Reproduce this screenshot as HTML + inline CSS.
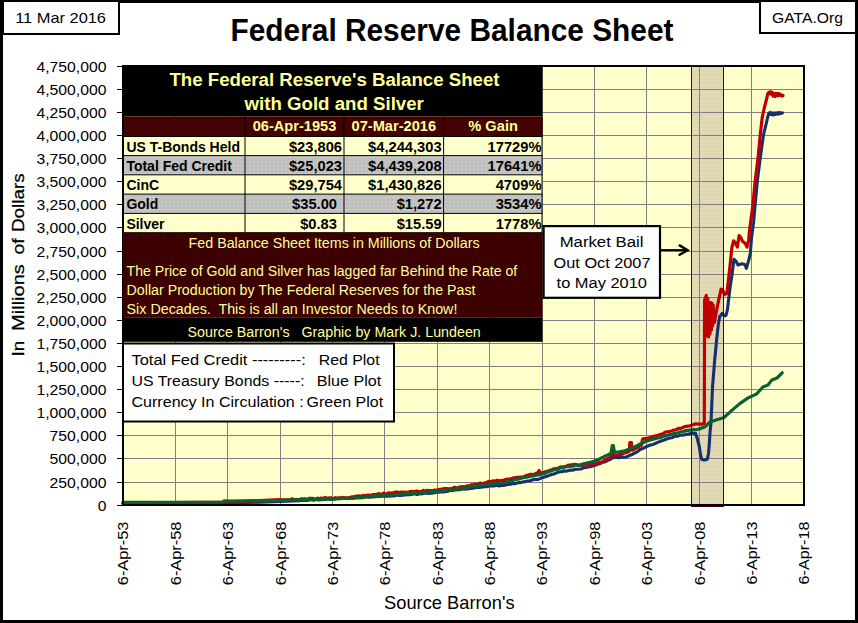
<!DOCTYPE html>
<html><head><meta charset="utf-8"><title>Federal Reserve Balance Sheet</title>
<style>html,body{margin:0;padding:0;background:#fff;width:858px;height:623px;overflow:hidden}</style>
</head><body>
<svg width="858" height="623" viewBox="0 0 858 623" style="display:block">
<defs>
<pattern id="dotY" width="4" height="4" patternUnits="userSpaceOnUse"><rect width="4" height="4" fill="#FFFFCC"/><rect x="1" y="1" width="1" height="1" fill="#FFFF99" opacity="0.6"/></pattern>
<pattern id="dotG" width="4" height="4" patternUnits="userSpaceOnUse"><rect width="4" height="4" fill="#C0C0C0"/><rect x="1" y="1" width="1" height="1" fill="#E0E0E0"/></pattern>
<pattern id="dotM" width="4" height="4" patternUnits="userSpaceOnUse"><rect width="4" height="4" fill="#420000"/><rect x="1" y="1" width="1" height="1" fill="#720000"/><rect x="3" y="3" width="1" height="1" fill="#600000"/></pattern>
<pattern id="dotT" width="4" height="4" patternUnits="userSpaceOnUse"><rect width="4" height="4" fill="#E6D5AC"/><rect x="0" y="0" width="1" height="1" fill="#EAE0BE"/><rect x="2" y="2" width="1" height="1" fill="#D6DAB0"/><rect x="2" y="0" width="1" height="1" fill="#EAE0BE"/></pattern>
</defs>
<rect x="0" y="0" width="858" height="623" fill="#000"/>
<rect x="3" y="3" width="852" height="617" fill="#fff"/>
<rect x="123.0" y="66.0" width="681.0" height="439.0" fill="url(#dotY)"/>
<rect x="691.5" y="66.0" width="32" height="439.0" fill="url(#dotT)"/>
<line x1="123.0" y1="89.5" x2="804.0" y2="89.5" stroke="#808080" stroke-width="1"/>
<line x1="123.0" y1="112.5" x2="804.0" y2="112.5" stroke="#808080" stroke-width="1"/>
<line x1="123.0" y1="135.5" x2="804.0" y2="135.5" stroke="#808080" stroke-width="1"/>
<line x1="123.0" y1="158.5" x2="804.0" y2="158.5" stroke="#808080" stroke-width="1"/>
<line x1="123.0" y1="181.5" x2="804.0" y2="181.5" stroke="#808080" stroke-width="1"/>
<line x1="123.0" y1="204.5" x2="804.0" y2="204.5" stroke="#808080" stroke-width="1"/>
<line x1="123.0" y1="227.5" x2="804.0" y2="227.5" stroke="#808080" stroke-width="1"/>
<line x1="123.0" y1="251.5" x2="804.0" y2="251.5" stroke="#808080" stroke-width="1"/>
<line x1="123.0" y1="274.5" x2="804.0" y2="274.5" stroke="#808080" stroke-width="1"/>
<line x1="123.0" y1="297.5" x2="804.0" y2="297.5" stroke="#808080" stroke-width="1"/>
<line x1="123.0" y1="320.5" x2="804.0" y2="320.5" stroke="#808080" stroke-width="1"/>
<line x1="123.0" y1="343.5" x2="804.0" y2="343.5" stroke="#808080" stroke-width="1"/>
<line x1="123.0" y1="366.5" x2="804.0" y2="366.5" stroke="#808080" stroke-width="1"/>
<line x1="123.0" y1="389.5" x2="804.0" y2="389.5" stroke="#808080" stroke-width="1"/>
<line x1="123.0" y1="412.5" x2="804.0" y2="412.5" stroke="#808080" stroke-width="1"/>
<line x1="123.0" y1="435.5" x2="804.0" y2="435.5" stroke="#808080" stroke-width="1"/>
<line x1="123.0" y1="458.5" x2="804.0" y2="458.5" stroke="#808080" stroke-width="1"/>
<line x1="123.0" y1="482.5" x2="804.0" y2="482.5" stroke="#808080" stroke-width="1"/>
<line x1="175.5" y1="66.0" x2="175.5" y2="505.0" stroke="#808080" stroke-width="1"/>
<line x1="227.5" y1="66.0" x2="227.5" y2="505.0" stroke="#808080" stroke-width="1"/>
<line x1="280.5" y1="66.0" x2="280.5" y2="505.0" stroke="#808080" stroke-width="1"/>
<line x1="332.5" y1="66.0" x2="332.5" y2="505.0" stroke="#808080" stroke-width="1"/>
<line x1="384.5" y1="66.0" x2="384.5" y2="505.0" stroke="#808080" stroke-width="1"/>
<line x1="437.5" y1="66.0" x2="437.5" y2="505.0" stroke="#808080" stroke-width="1"/>
<line x1="489.5" y1="66.0" x2="489.5" y2="505.0" stroke="#808080" stroke-width="1"/>
<line x1="542.5" y1="66.0" x2="542.5" y2="505.0" stroke="#808080" stroke-width="1"/>
<line x1="594.5" y1="66.0" x2="594.5" y2="505.0" stroke="#808080" stroke-width="1"/>
<line x1="646.5" y1="66.0" x2="646.5" y2="505.0" stroke="#808080" stroke-width="1"/>
<line x1="699.5" y1="66.0" x2="699.5" y2="505.0" stroke="#808080" stroke-width="1"/>
<line x1="751.5" y1="66.0" x2="751.5" y2="505.0" stroke="#808080" stroke-width="1"/>
<line x1="691.5" y1="66.0" x2="691.5" y2="505.0" stroke="#4B0019" stroke-width="1"/><line x1="723.5" y1="66.0" x2="723.5" y2="505.0" stroke="#4B0019" stroke-width="1"/>
<polyline fill="none" stroke="#17306C" stroke-width="3.1" stroke-linejoin="round" stroke-linecap="round" points="123,504 230,503.3 300,500.6 301.7,500.3 303.4,500.46 305.11,500.23 306.81,500.33 308.51,500.25 310.21,499.72 311.91,499.59 313.62,500.16 315.32,499.6 317.02,499.49 318.72,500.01 320.43,499.5 322.13,499.71 323.83,499.33 325.53,499.37 327.23,498.89 328.94,499.19 330.64,499.29 332.34,498.92 334.04,499.01 335.74,498.86 337.45,498.29 339.15,498.75 340.85,498.53 342.55,498.21 344.26,497.9 345.96,498.48 347.66,498.08 349.36,498.18 351.06,498.22 352.77,498.0 354.47,498.08 356.17,497.57 357.87,497.8 359.57,497.43 361.28,497.73 362.98,497.6 364.68,496.88 366.38,496.82 368.09,496.8 369.79,497.31 371.49,496.8 373.19,496.86 374.89,496.51 376.6,496.58 378.3,496.4 380,496.4 381.72,496.17 383.45,496.25 385.17,496.14 386.9,496.28 388.62,495.99 390.34,496.08 392.07,495.91 393.79,495.91 395.52,495.54 397.24,495.03 398.97,495.47 400.69,495.45 402.41,495.29 404.14,494.91 405.86,494.92 407.59,494.4 409.31,494.79 411.03,494.47 412.76,494.13 414.48,493.84 416.21,494.37 417.93,494.36 419.66,493.53 421.38,493.99 423.1,493.57 424.83,493.25 426.55,493.26 428.28,493.53 430,493.2 431.74,493.29 433.48,492.42 435.22,492.67 436.96,492.0 438.7,492.33 440.43,491.81 442.17,492.04 443.91,491.91 445.65,491.33 447.39,491.51 449.13,490.75 450.87,490.36 452.61,490.57 454.35,489.9 456.09,489.83 457.83,489.79 459.57,489.74 461.3,489.17 463.04,488.87 464.78,489.32 466.52,488.67 468.26,488.98 470,488.4 471.82,488.5 473.64,487.87 475.45,487.71 477.27,487.54 479.09,487.42 480.91,487.17 482.73,486.92 484.55,486.75 486.36,486.79 488.18,486.22 490,486 491.88,485.84 493.75,485.98 495.62,485.49 497.5,485.44 499.38,485.88 501.25,485.42 503.12,485.34 505,485.2 506.88,484.48 508.75,484.48 510.62,484.29 512.5,483.52 514.38,483.67 516.25,483.36 518.12,482.57 520,482.6 521.82,482.34 523.64,481.85 525.45,481.65 527.27,481.03 529.09,480.95 530.91,480.61 532.73,479.67 534.55,479.34 536.36,479.47 538.18,479.33 540,478.6 541.82,477.78 543.64,477.33 545.45,476.82 547.27,475.98 549.09,475.4 550.91,474.74 552.73,474.17 554.55,473.73 556.36,472.88 558.18,472.32 560,471.8 561.82,471.76 563.64,470.91 565.45,471.09 567.27,470.97 569.09,470.38 570.91,470.05 572.73,470.26 574.55,469.55 576.36,469.26 578.18,469.2 580,469 582.0,468.68 584.0,467.72 586.0,467.42 588.0,466.95 590,466.6 592.0,466.27 594.0,465.35 596.0,465.08 598.0,463.94 600,463.6 602.0,462.65 604.0,462.08 606.0,461.45 608.0,460.28 610,459.5 613,457.6 614.75,457.38 616.5,457.3 618.25,457.62 620,457.6 621.75,457.13 623.5,457.4 625.25,457.2 627,456.7 629.5,455.4 632,454.6 634.0,453.37 636,452.5 638.0,451.25 640,449.5 642.0,448.71 644.0,447.95 646,446.8 647.8,446.04 649.6,445.22 651.4,444.71 653.2,444.48 655,443.6 657.5,442.37 660,441.5 662.0,440.68 664.0,440.03 666.0,439.34 668.0,438.63 670,438 672.0,437.78 674.0,436.6 676.0,435.92 678.0,436.11 680,435.2 682.0,435.18 684.0,434.95 686.0,434.19 688.0,434.28 690,433.6 692,432.9 693.8,433.49 695.6,433.4 697.3,438.5 699.3,446.5 700.5,454.5 701.7,459.3 704.1,460.1 707.3,459.3 708.5,453.7 709.3,444 710.1,431.2 710.9,424 712.6,385.7 714.7,360 716.6,340 718.3,324.3 719.7,316.6 722.1,313.3 724,315.7 725.9,315.7 727.4,309.9 728.4,301.2 729.8,289.6 731.8,276.2 734,259.3 736.3,261.6 738,265 741.9,263.8 744.7,264.4 746.4,268.3 748.7,260.4 750.3,253.7 751.5,238 753.6,222.2 755.1,205 757.3,181.4 760.2,158.3 763.4,135.2 765.9,125 767.5,118 768.8,113.3 770,112.5 771,114.5 772,112.8 773,115 774,113 775,114.5 776,112.8 777,114.2 778,112.6 779,114 780,112.5 781,113.5 782.5,112.8"/>
<polyline fill="none" stroke="#C00000" stroke-width="3.2" stroke-linejoin="round" stroke-linecap="round" points="123,503 230,502 280,499.7 281.67,499.81 283.33,499.91 285.0,499.93 286.67,500.06 288.33,499.78 290.0,499.96 291.67,498.84 293.33,499.33 295.0,499.86 296.67,499.46 298.33,499.72 300,499.2 301.61,498.68 303.23,499.05 304.84,498.72 306.45,499.02 308.06,499.0 309.68,498.27 311.29,498.45 312.9,498.47 314.52,499.18 316.13,498.94 317.74,498.15 319.35,498.86 320.97,498.01 322.58,498.53 324.19,497.88 325.81,497.67 327.42,498.66 329.03,497.81 330.65,497.76 332.26,498.62 333.87,498.43 335.48,497.67 337.1,498.42 338.71,497.85 340.32,497.96 341.94,497.34 343.55,498.16 345.16,497.8 346.77,498.08 348.39,497.93 350,497.4 351.67,496.97 353.33,496.86 355.0,496.43 356.67,496.22 358.33,495.93 360.0,496.03 361.67,496.2 363.33,495.29 365.0,495.91 366.67,495.32 368.33,495.09 370.0,495.52 371.67,494.92 373.33,494.53 375.0,494.54 376.67,494.62 378.33,493.66 380,494.0 381.67,494.44 383.33,493.16 385.0,493.9 386.67,493.88 388.33,492.76 390.0,493.55 391.67,492.91 393.33,493.03 395.0,492.21 396.67,492.12 398.33,492.15 400.0,492.95 401.67,491.9 403.33,492.44 405,492 406.67,492.42 408.33,492.34 410.0,491.53 411.67,491.45 413.33,491.56 415.0,491.77 416.67,490.88 418.33,491.55 420.0,491.52 421.67,491.5 423.33,490.42 425.0,491.41 426.67,490.3 428.33,490.5 430,490.6 431.67,490.57 433.33,490.77 435.0,489.91 436.67,490.44 438.33,489.82 440.0,489.37 441.67,489.21 443.33,488.88 445.0,488.59 446.67,488.51 448.33,488.99 450,488.6 451.67,488.95 453.33,487.69 455.0,487.31 456.67,488.18 458.33,487.39 460.0,486.99 461.67,486.53 463.33,486.71 465.0,486.74 466.67,486.05 468.33,485.76 470,485.6 471.67,484.73 473.33,485.43 475.0,484.04 476.67,484.26 478.33,484.34 480.0,483.16 481.67,483.54 483.33,483.47 485.0,482.76 486.67,482.61 488.33,481.46 490,481.6 491.67,481.3 493.33,480.73 495.0,481.35 496.67,480.46 498.33,480.43 500.0,480.87 501.67,480.47 503.33,480.39 505,479.6 506.67,479.27 508.33,479.03 510.0,479.04 511.67,478.46 513.33,477.96 515.0,477.82 516.67,477.23 518.33,477.23 520,477.1 521.64,477.31 523.27,476.91 524.91,476.13 526.55,475.61 528.18,475.04 529.82,474.37 531.45,474.22 533.09,474.46 534.73,474.19 536.36,473.21 538,473 539,470.6 540.5,473 542.12,472.87 543.75,472.38 545.38,471.81 547.0,471.3 548.62,470.94 550.25,469.99 551.88,469.92 553.5,468.94 555.12,468.71 556.75,468.57 558.38,468.0 560,467.3 561.67,466.72 563.33,467.17 565.0,466.48 566.67,466.06 568.33,465.05 570.0,465.36 571.67,464.67 573.33,464.84 575,464.3 576.67,464.59 578.33,465.35 580,465.3 581.67,465.36 583.33,465.42 585.0,464.77 586.67,465.01 588.33,465.0 590,464.6 591.67,464.61 593.33,463.65 595.0,463.86 596.67,463.51 598.33,462.91 600,462.3 601.67,462.09 603.33,461.28 605.0,459.97 606.67,459.2 608.33,457.98 610,457.6 613,454.2 616,455.2 618.0,455.1 620,454.2 621.67,454.29 623.33,453.31 625,452.9 627.15,452.28 629.3,451.2 629.8,442.6 631.4,442.6 632,450.2 634.0,449.46 636,448.2 638.0,447.18 640,445.6 641.5,445.2 642.5,439.3 644.25,438.56 646,438.6 647.8,438.42 649.6,437.66 651.4,437.24 653.2,436.42 655,436 656.67,435.62 658.33,435.26 660,434.4 661.67,434.05 663.33,433.63 665.0,432.28 666.67,431.93 668.33,431.75 670,431.3 671.67,431.0 673.33,430.0 675.0,430.07 676.67,429.52 678.33,428.33 680,428.4 681.67,427.95 683.33,427.24 685.0,426.61 686.67,426.29 688.33,426.1 690,425.9 691.75,425.04 693.5,424.58 695.25,423.92 697,424 698.67,424.03 700.33,423.99 702,424.2 704.3,423.5 704.6,300 706.3,295.5 707.2,336 707.8,298 708.6,337 709.3,302.5 710,334 710.7,302.5 711.4,330 712,303 712.6,326 713.2,305 713.8,323 714.3,322.4 717.8,304.1 721.1,289.2 722.6,289.6 724.5,294.5 726.9,293.5 730.1,265 731.8,248.1 733.5,240.8 735.2,242.5 737.4,247 739.1,235.7 740.8,237.4 742.5,241.3 745.3,243.6 747,247 748.7,240.2 749.4,231.2 750.9,220 752.9,205 755.1,181.4 758,158.3 760.2,135.2 762.3,117 764.3,108 766.6,99 767.9,93.4 768.8,92.5 769.8,93.5 770.6,91.6 771.5,94.5 772.3,92.5 773.2,96 774,93.5 775,96.5 776,93.5 777,95.5 778,93.5 779,95.5 780,94 781,95 782,96 783,95.5"/>
<polyline fill="none" stroke="#0A6030" stroke-width="3.2" stroke-linejoin="round" stroke-linecap="round" points="123,502.4 223,502.0 224,500.9 230,501.0 280,500.4 281.82,500.23 283.64,500.06 285.45,500.37 287.27,499.92 289.09,500.2 290.91,500.03 292.73,499.77 294.55,500.04 296.36,499.67 298.18,499.9 300,499.9 301.72,499.54 303.45,499.5 305.17,499.68 306.9,499.91 308.62,499.36 310.34,499.38 312.07,499.6 313.79,499.77 315.52,499.46 317.24,499.28 318.97,499.63 320.69,498.92 322.41,499.43 324.14,498.98 325.86,498.82 327.59,498.75 329.31,498.83 331.03,499.13 332.76,498.63 334.48,498.85 336.21,498.84 337.93,498.6 339.66,498.66 341.38,498.27 343.1,498.21 344.83,498.26 346.55,498.54 348.28,498.3 350,498.3 351.76,498.01 353.53,498.04 355.29,497.79 357.06,497.52 358.82,497.71 360.59,497.49 362.35,497.01 364.12,497.08 365.88,496.89 367.65,496.97 369.41,496.71 371.18,496.25 372.94,496.57 374.71,495.81 376.47,495.86 378.24,495.94 380,495.6 381.79,495.22 383.57,495.32 385.36,494.87 387.14,495.17 388.93,495.11 390.71,494.84 392.5,494.91 394.29,494.38 396.07,494.52 397.86,494.31 399.64,494.16 401.43,493.94 403.21,494.07 405,493.7 406.79,493.89 408.57,493.44 410.36,493.45 412.14,492.91 413.93,493.23 415.71,493.07 417.5,493.2 419.29,492.95 421.07,492.46 422.86,492.41 424.64,492.48 426.43,491.91 428.21,492.09 430,492 431.82,491.59 433.64,491.37 435.45,491.15 437.27,491.46 439.09,490.83 440.91,490.73 442.73,490.65 444.55,490.81 446.36,490.07 448.18,490.15 450,490 451.82,489.76 453.64,489.72 455.45,489.41 457.27,489.16 459.09,488.48 460.91,488.3 462.73,487.99 464.55,488.09 466.36,487.87 468.18,487.03 470,487 471.82,486.5 473.64,486.27 475.45,486.0 477.27,485.9 479.09,485.7 480.91,485.2 482.73,484.74 484.55,484.76 486.36,484.45 488.18,484.32 490,484 491.88,484.09 493.75,483.68 495.62,483.34 497.5,483.18 499.38,483.0 501.25,482.34 503.12,482.7 505,482.2 506.88,481.96 508.75,481.59 510.62,481.1 512.5,480.37 514.38,479.94 516.25,479.3 518.12,479.23 520,478.7 521.82,478.03 523.64,477.67 525.45,477.41 527.27,477.01 529.09,476.77 530.91,476.2 532.73,475.8 534.55,475.55 536.36,475.15 538.18,474.97 540,474.7 541.82,473.76 543.64,473.74 545.45,472.95 547.27,472.02 549.09,471.48 550.91,470.94 552.73,470.34 554.55,469.56 556.36,469.46 558.18,468.95 560,468.0 561.82,467.69 563.64,467.41 565.45,466.84 567.27,466.56 569.09,466.44 570.91,466.09 572.73,466.19 574.55,465.44 576.36,465.05 578.18,465.41 580,464.8 582.0,464.36 584.0,463.63 586.0,463.45 588.0,462.63 590,462.5 592.0,461.78 594.0,461.35 596.0,460.53 598.0,459.68 600,458.8 601.83,457.72 603.67,456.87 605.5,455.82 607.33,455.32 609.17,454.24 611,453.3 612.3,445.5 613.3,445.5 614.3,451.8 617,452 619.5,451.9 622,451.4 625,450.9 627.5,449.73 630,448.8 632.0,447.65 634.0,447.1 636.0,446.26 638.0,445.21 640,444 642.0,443.28 644.0,442.36 646,441.2 647.8,440.89 649.6,440.05 651.4,439.77 653.2,439.18 655,438.8 657.5,437.92 660,437.7 662.0,436.73 664.0,436.27 666.0,435.61 668.0,435.27 670,434.5 672.0,434.3 674.0,433.42 676.0,433.25 678.0,432.76 680,431.9 682.0,431.88 684.0,431.13 686.0,430.68 688.0,430.35 690,430.2 691.75,429.81 693.5,429.64 695.25,429.76 697,429.5 700,428.8 705,426.8 710,422 716.7,419.7 723.7,417.8 732.1,410.1 739.8,403.6 748.1,397.9 756.5,394 762.9,387 768,385 771.9,379.9 777,378 782.2,372.8"/>
<rect x="123.0" y="66.0" width="681.0" height="439.0" fill="none" stroke="#000" stroke-width="2"/>
<rect x="691.5" y="65.5" width="32" height="441" fill="none" stroke="#4B0019" stroke-width="1"/>
<line x1="117" y1="66.5" x2="123.0" y2="66.5" stroke="#000" stroke-width="1"/>
<text x="106.5" y="71.7" text-anchor="end" font-family='"Liberation Sans", sans-serif' font-size="14.3" textLength="70.0" lengthAdjust="spacingAndGlyphs" fill="#000">4,750,000</text>
<line x1="117" y1="89.5" x2="123.0" y2="89.5" stroke="#000" stroke-width="1"/>
<text x="106.5" y="94.7" text-anchor="end" font-family='"Liberation Sans", sans-serif' font-size="14.3" textLength="70.0" lengthAdjust="spacingAndGlyphs" fill="#000">4,500,000</text>
<line x1="117" y1="112.5" x2="123.0" y2="112.5" stroke="#000" stroke-width="1"/>
<text x="106.5" y="117.7" text-anchor="end" font-family='"Liberation Sans", sans-serif' font-size="14.3" textLength="70.0" lengthAdjust="spacingAndGlyphs" fill="#000">4,250,000</text>
<line x1="117" y1="135.5" x2="123.0" y2="135.5" stroke="#000" stroke-width="1"/>
<text x="106.5" y="140.7" text-anchor="end" font-family='"Liberation Sans", sans-serif' font-size="14.3" textLength="70.0" lengthAdjust="spacingAndGlyphs" fill="#000">4,000,000</text>
<line x1="117" y1="158.5" x2="123.0" y2="158.5" stroke="#000" stroke-width="1"/>
<text x="106.5" y="163.7" text-anchor="end" font-family='"Liberation Sans", sans-serif' font-size="14.3" textLength="70.0" lengthAdjust="spacingAndGlyphs" fill="#000">3,750,000</text>
<line x1="117" y1="181.5" x2="123.0" y2="181.5" stroke="#000" stroke-width="1"/>
<text x="106.5" y="186.7" text-anchor="end" font-family='"Liberation Sans", sans-serif' font-size="14.3" textLength="70.0" lengthAdjust="spacingAndGlyphs" fill="#000">3,500,000</text>
<line x1="117" y1="204.5" x2="123.0" y2="204.5" stroke="#000" stroke-width="1"/>
<text x="106.5" y="209.7" text-anchor="end" font-family='"Liberation Sans", sans-serif' font-size="14.3" textLength="70.0" lengthAdjust="spacingAndGlyphs" fill="#000">3,250,000</text>
<line x1="117" y1="227.5" x2="123.0" y2="227.5" stroke="#000" stroke-width="1"/>
<text x="106.5" y="232.7" text-anchor="end" font-family='"Liberation Sans", sans-serif' font-size="14.3" textLength="70.0" lengthAdjust="spacingAndGlyphs" fill="#000">3,000,000</text>
<line x1="117" y1="251.5" x2="123.0" y2="251.5" stroke="#000" stroke-width="1"/>
<text x="106.5" y="256.7" text-anchor="end" font-family='"Liberation Sans", sans-serif' font-size="14.3" textLength="70.0" lengthAdjust="spacingAndGlyphs" fill="#000">2,750,000</text>
<line x1="117" y1="274.5" x2="123.0" y2="274.5" stroke="#000" stroke-width="1"/>
<text x="106.5" y="279.7" text-anchor="end" font-family='"Liberation Sans", sans-serif' font-size="14.3" textLength="70.0" lengthAdjust="spacingAndGlyphs" fill="#000">2,500,000</text>
<line x1="117" y1="297.5" x2="123.0" y2="297.5" stroke="#000" stroke-width="1"/>
<text x="106.5" y="302.7" text-anchor="end" font-family='"Liberation Sans", sans-serif' font-size="14.3" textLength="70.0" lengthAdjust="spacingAndGlyphs" fill="#000">2,250,000</text>
<line x1="117" y1="320.5" x2="123.0" y2="320.5" stroke="#000" stroke-width="1"/>
<text x="106.5" y="325.7" text-anchor="end" font-family='"Liberation Sans", sans-serif' font-size="14.3" textLength="70.0" lengthAdjust="spacingAndGlyphs" fill="#000">2,000,000</text>
<line x1="117" y1="343.5" x2="123.0" y2="343.5" stroke="#000" stroke-width="1"/>
<text x="106.5" y="348.7" text-anchor="end" font-family='"Liberation Sans", sans-serif' font-size="14.3" textLength="70.0" lengthAdjust="spacingAndGlyphs" fill="#000">1,750,000</text>
<line x1="117" y1="366.5" x2="123.0" y2="366.5" stroke="#000" stroke-width="1"/>
<text x="106.5" y="371.7" text-anchor="end" font-family='"Liberation Sans", sans-serif' font-size="14.3" textLength="70.0" lengthAdjust="spacingAndGlyphs" fill="#000">1,500,000</text>
<line x1="117" y1="389.5" x2="123.0" y2="389.5" stroke="#000" stroke-width="1"/>
<text x="106.5" y="394.7" text-anchor="end" font-family='"Liberation Sans", sans-serif' font-size="14.3" textLength="70.0" lengthAdjust="spacingAndGlyphs" fill="#000">1,250,000</text>
<line x1="117" y1="412.5" x2="123.0" y2="412.5" stroke="#000" stroke-width="1"/>
<text x="106.5" y="417.7" text-anchor="end" font-family='"Liberation Sans", sans-serif' font-size="14.3" textLength="70.0" lengthAdjust="spacingAndGlyphs" fill="#000">1,000,000</text>
<line x1="117" y1="435.5" x2="123.0" y2="435.5" stroke="#000" stroke-width="1"/>
<text x="106.5" y="440.7" text-anchor="end" font-family='"Liberation Sans", sans-serif' font-size="14.3" textLength="56.9" lengthAdjust="spacingAndGlyphs" fill="#000">750,000</text>
<line x1="117" y1="458.5" x2="123.0" y2="458.5" stroke="#000" stroke-width="1"/>
<text x="106.5" y="463.7" text-anchor="end" font-family='"Liberation Sans", sans-serif' font-size="14.3" textLength="56.9" lengthAdjust="spacingAndGlyphs" fill="#000">500,000</text>
<line x1="117" y1="482.5" x2="123.0" y2="482.5" stroke="#000" stroke-width="1"/>
<text x="106.5" y="487.7" text-anchor="end" font-family='"Liberation Sans", sans-serif' font-size="14.3" textLength="56.9" lengthAdjust="spacingAndGlyphs" fill="#000">250,000</text>
<line x1="117" y1="505.5" x2="123.0" y2="505.5" stroke="#000" stroke-width="1"/>
<text x="106.5" y="510.7" text-anchor="end" font-family='"Liberation Sans", sans-serif' font-size="14.3" textLength="8.7" lengthAdjust="spacingAndGlyphs" fill="#000">0</text>
<text transform="translate(128.4,521.6) rotate(-90)" text-anchor="end" font-family='"Liberation Sans", sans-serif' font-size="15.5" textLength="63.6" lengthAdjust="spacingAndGlyphs" fill="#000">6-Apr-53</text>
<text transform="translate(180.8,521.6) rotate(-90)" text-anchor="end" font-family='"Liberation Sans", sans-serif' font-size="15.5" textLength="63.6" lengthAdjust="spacingAndGlyphs" fill="#000">6-Apr-58</text>
<text transform="translate(233.2,521.6) rotate(-90)" text-anchor="end" font-family='"Liberation Sans", sans-serif' font-size="15.5" textLength="63.6" lengthAdjust="spacingAndGlyphs" fill="#000">6-Apr-63</text>
<text transform="translate(285.5,521.6) rotate(-90)" text-anchor="end" font-family='"Liberation Sans", sans-serif' font-size="15.5" textLength="63.6" lengthAdjust="spacingAndGlyphs" fill="#000">6-Apr-68</text>
<text transform="translate(337.9,521.6) rotate(-90)" text-anchor="end" font-family='"Liberation Sans", sans-serif' font-size="15.5" textLength="63.6" lengthAdjust="spacingAndGlyphs" fill="#000">6-Apr-73</text>
<text transform="translate(390.3,521.6) rotate(-90)" text-anchor="end" font-family='"Liberation Sans", sans-serif' font-size="15.5" textLength="63.6" lengthAdjust="spacingAndGlyphs" fill="#000">6-Apr-78</text>
<text transform="translate(442.7,521.6) rotate(-90)" text-anchor="end" font-family='"Liberation Sans", sans-serif' font-size="15.5" textLength="63.6" lengthAdjust="spacingAndGlyphs" fill="#000">6-Apr-83</text>
<text transform="translate(495.1,521.6) rotate(-90)" text-anchor="end" font-family='"Liberation Sans", sans-serif' font-size="15.5" textLength="63.6" lengthAdjust="spacingAndGlyphs" fill="#000">6-Apr-88</text>
<text transform="translate(547.4,521.6) rotate(-90)" text-anchor="end" font-family='"Liberation Sans", sans-serif' font-size="15.5" textLength="63.6" lengthAdjust="spacingAndGlyphs" fill="#000">6-Apr-93</text>
<text transform="translate(599.8,521.6) rotate(-90)" text-anchor="end" font-family='"Liberation Sans", sans-serif' font-size="15.5" textLength="63.6" lengthAdjust="spacingAndGlyphs" fill="#000">6-Apr-98</text>
<text transform="translate(652.2,521.6) rotate(-90)" text-anchor="end" font-family='"Liberation Sans", sans-serif' font-size="15.5" textLength="63.6" lengthAdjust="spacingAndGlyphs" fill="#000">6-Apr-03</text>
<text transform="translate(704.6,521.6) rotate(-90)" text-anchor="end" font-family='"Liberation Sans", sans-serif' font-size="15.5" textLength="63.6" lengthAdjust="spacingAndGlyphs" fill="#000">6-Apr-08</text>
<text transform="translate(757.0,521.6) rotate(-90)" text-anchor="end" font-family='"Liberation Sans", sans-serif' font-size="15.5" textLength="62.8" lengthAdjust="spacingAndGlyphs" fill="#000">6-Apr-13</text>
<text transform="translate(809.3,521.6) rotate(-90)" text-anchor="end" font-family='"Liberation Sans", sans-serif' font-size="15.5" textLength="62.8" lengthAdjust="spacingAndGlyphs" fill="#000">6-Apr-18</text>
<text x="230.5" y="40.9" font-family='"Liberation Sans", sans-serif' font-weight="bold" font-size="31.5" textLength="443" lengthAdjust="spacingAndGlyphs" fill="#000">Federal Reserve Balance Sheet</text>
<text transform="translate(24,356.5) rotate(-90)" font-family='"Liberation Sans", sans-serif' font-size="17.2" fill="#000" stroke="#000" stroke-width="0.25" textLength="15.7" lengthAdjust="spacingAndGlyphs">In</text>
<text transform="translate(24,330.9) rotate(-90)" font-family='"Liberation Sans", sans-serif' font-size="17.2" fill="#000" stroke="#000" stroke-width="0.25" textLength="66.7" lengthAdjust="spacingAndGlyphs">Millions</text>
<text transform="translate(24,254.5) rotate(-90)" font-family='"Liberation Sans", sans-serif' font-size="17.2" fill="#000" stroke="#000" stroke-width="0.25" textLength="16.1" lengthAdjust="spacingAndGlyphs">of</text>
<text transform="translate(24,232.0) rotate(-90)" font-family='"Liberation Sans", sans-serif' font-size="17.2" fill="#000" stroke="#000" stroke-width="0.25" textLength="58.6" lengthAdjust="spacingAndGlyphs">Dollars</text>
<text x="384" y="608.9" font-family='"Liberation Sans", sans-serif' font-size="17.9" textLength="130.6" lengthAdjust="spacingAndGlyphs" fill="#000">Source Barron's</text>
<rect x="2" y="0" width="118" height="35" fill="#000"/><rect x="4" y="2" width="114" height="31" fill="#fff"/>
<text x="15.2" y="22.6" font-family='"Liberation Sans", sans-serif' font-size="14.8" textLength="90.8" lengthAdjust="spacingAndGlyphs" fill="#000">11 Mar 2016</text>
<rect x="759" y="0" width="99" height="34" fill="#000"/><rect x="761" y="2" width="94" height="30" fill="#fff"/>
<text x="772" y="22.7" font-family='"Liberation Sans", sans-serif' font-size="15.4" textLength="71" lengthAdjust="spacingAndGlyphs" fill="#000">GATA.Org</text>
<rect x="123" y="65" width="419.5" height="51.5" fill="#000"/>
<text x="334.5" y="85.7" text-anchor="middle" font-family='"Liberation Sans", sans-serif' font-weight="bold" font-size="18.67" fill="#FFFF99">The Federal Reserve's Balance Sheet</text>
<text x="334.2" y="109.7" text-anchor="middle" font-family='"Liberation Sans", sans-serif' font-weight="bold" font-size="18.67" fill="#FFFF99">with Gold and Silver</text>
<rect x="123" y="116.5" width="419.5" height="20" fill="url(#dotM)"/>
<text x="294.5" y="131.3" text-anchor="middle" font-family='"Liberation Sans", sans-serif' font-weight="bold" font-size="14" textLength="83.7" lengthAdjust="spacingAndGlyphs" fill="#FFFF99">06-Apr-1953</text>
<text x="393.8" y="131.3" text-anchor="middle" font-family='"Liberation Sans", sans-serif' font-weight="bold" font-size="14" textLength="84.5" lengthAdjust="spacingAndGlyphs" fill="#FFFF99">07-Mar-2016</text>
<text x="493.1" y="131.3" text-anchor="middle" font-family='"Liberation Sans", sans-serif' font-weight="bold" font-size="14" textLength="49.6" lengthAdjust="spacingAndGlyphs" fill="#FFFF99">% Gain</text>
<rect x="123" y="136.5" width="419.5" height="19.099999999999994" fill="#FFFFCC"/>
<text x="126.4" y="151.8" font-family='"Liberation Sans", sans-serif' font-weight="bold" font-size="14" fill="#000">US T-Bonds Held</text>
<text x="342.0" y="151.8" text-anchor="end" font-family='"Liberation Sans", sans-serif' font-weight="bold" font-size="14" textLength="53.1" lengthAdjust="spacingAndGlyphs" fill="#000">$23,806</text>
<text x="441.6" y="151.8" text-anchor="end" font-family='"Liberation Sans", sans-serif' font-weight="bold" font-size="14" textLength="73.5" lengthAdjust="spacingAndGlyphs" fill="#000">$4,244,303</text>
<text x="541.5" y="151.8" text-anchor="end" font-family='"Liberation Sans", sans-serif' font-weight="bold" font-size="14" textLength="53.9" lengthAdjust="spacingAndGlyphs" fill="#000">17729%</text>
<rect x="123" y="155.6" width="419.5" height="19.200000000000017" fill="url(#dotG)"/>
<text x="126.4" y="170.9" font-family='"Liberation Sans", sans-serif' font-weight="bold" font-size="14" fill="#000">Total Fed Credit</text>
<text x="342.0" y="170.9" text-anchor="end" font-family='"Liberation Sans", sans-serif' font-weight="bold" font-size="14" textLength="53.1" lengthAdjust="spacingAndGlyphs" fill="#000">$25,023</text>
<text x="441.6" y="170.9" text-anchor="end" font-family='"Liberation Sans", sans-serif' font-weight="bold" font-size="14" textLength="73.5" lengthAdjust="spacingAndGlyphs" fill="#000">$4,439,208</text>
<text x="541.5" y="170.9" text-anchor="end" font-family='"Liberation Sans", sans-serif' font-weight="bold" font-size="14" textLength="53.9" lengthAdjust="spacingAndGlyphs" fill="#000">17641%</text>
<rect x="123" y="174.8" width="419.5" height="19.299999999999983" fill="#FFFFCC"/>
<text x="126.4" y="190.1" font-family='"Liberation Sans", sans-serif' font-weight="bold" font-size="14" fill="#000">CinC</text>
<text x="342.0" y="190.1" text-anchor="end" font-family='"Liberation Sans", sans-serif' font-weight="bold" font-size="14" textLength="53.1" lengthAdjust="spacingAndGlyphs" fill="#000">$29,754</text>
<text x="441.6" y="190.1" text-anchor="end" font-family='"Liberation Sans", sans-serif' font-weight="bold" font-size="14" textLength="73.5" lengthAdjust="spacingAndGlyphs" fill="#000">$1,430,826</text>
<text x="541.5" y="190.1" text-anchor="end" font-family='"Liberation Sans", sans-serif' font-weight="bold" font-size="14" textLength="45.8" lengthAdjust="spacingAndGlyphs" fill="#000">4709%</text>
<rect x="123" y="194.1" width="419.5" height="19.30000000000001" fill="url(#dotG)"/>
<text x="126.4" y="209.4" font-family='"Liberation Sans", sans-serif' font-weight="bold" font-size="14" fill="#000">Gold</text>
<text x="337.0" y="209.4" text-anchor="end" font-family='"Liberation Sans", sans-serif' font-weight="bold" font-size="14" textLength="44.9" lengthAdjust="spacingAndGlyphs" fill="#000">$35.00</text>
<text x="441.6" y="209.4" text-anchor="end" font-family='"Liberation Sans", sans-serif' font-weight="bold" font-size="14" textLength="44.9" lengthAdjust="spacingAndGlyphs" fill="#000">$1,272</text>
<text x="541.5" y="209.4" text-anchor="end" font-family='"Liberation Sans", sans-serif' font-weight="bold" font-size="14" textLength="45.8" lengthAdjust="spacingAndGlyphs" fill="#000">3534%</text>
<rect x="123" y="213.4" width="419.5" height="19.299999999999983" fill="#FFFFCC"/>
<text x="126.4" y="228.7" font-family='"Liberation Sans", sans-serif' font-weight="bold" font-size="14" fill="#000">Silver</text>
<text x="337.0" y="228.7" text-anchor="end" font-family='"Liberation Sans", sans-serif' font-weight="bold" font-size="14" textLength="36.8" lengthAdjust="spacingAndGlyphs" fill="#000">$0.83</text>
<text x="441.6" y="228.7" text-anchor="end" font-family='"Liberation Sans", sans-serif' font-weight="bold" font-size="14" textLength="44.9" lengthAdjust="spacingAndGlyphs" fill="#000">$15.59</text>
<text x="541.5" y="228.7" text-anchor="end" font-family='"Liberation Sans", sans-serif' font-weight="bold" font-size="14" textLength="45.8" lengthAdjust="spacingAndGlyphs" fill="#000">1778%</text>
<line x1="123" y1="136.5" x2="542.5" y2="136.5" stroke="#000" stroke-width="1"/>
<line x1="123" y1="155.6" x2="542.5" y2="155.6" stroke="#000" stroke-width="1"/>
<line x1="123" y1="174.8" x2="542.5" y2="174.8" stroke="#000" stroke-width="1"/>
<line x1="123" y1="194.1" x2="542.5" y2="194.1" stroke="#000" stroke-width="1"/>
<line x1="123" y1="213.4" x2="542.5" y2="213.4" stroke="#000" stroke-width="1"/>
<line x1="123" y1="232.7" x2="542.5" y2="232.7" stroke="#000" stroke-width="1"/>
<line x1="245" y1="116.5" x2="245" y2="232.7" stroke="#000" stroke-width="1"/>
<line x1="344" y1="116.5" x2="344" y2="232.7" stroke="#000" stroke-width="1"/>
<line x1="443.6" y1="116.5" x2="443.6" y2="232.7" stroke="#000" stroke-width="1"/>
<line x1="123.5" y1="116.5" x2="123.5" y2="232.7" stroke="#000" stroke-width="1"/>
<line x1="542.0" y1="116.5" x2="542.0" y2="232.7" stroke="#000" stroke-width="1"/>
<rect x="123" y="232.7" width="419.5" height="85.1" fill="#3C0000"/>
<text x="188.6" y="247.9" font-family='"Liberation Sans", sans-serif' font-size="14" textLength="291" lengthAdjust="spacingAndGlyphs" fill="#FFFF99">Fed Balance Sheet Items in Millions of Dollars</text>
<text x="126.6" y="275.6" font-family='"Liberation Sans", sans-serif' font-size="14" textLength="390.6" lengthAdjust="spacingAndGlyphs" fill="#FFFF99" xml:space="preserve">The Price of Gold and Silver has lagged far Behind the Rate of</text>
<text x="126.6" y="294.7" font-family='"Liberation Sans", sans-serif' font-size="14" textLength="348.9" lengthAdjust="spacingAndGlyphs" fill="#FFFF99" xml:space="preserve">Dollar Production by The Federal Reserves for the Past</text>
<text x="126.6" y="313.8" font-family='"Liberation Sans", sans-serif' font-size="14" textLength="330.8" lengthAdjust="spacingAndGlyphs" fill="#FFFF99" xml:space="preserve">Six Decades.  This is all an Investor Needs to Know!</text>
<rect x="123" y="317.8" width="419.5" height="24" fill="#000"/>
<text x="187.6" y="337.4" font-family='"Liberation Sans", sans-serif' font-size="14" textLength="293.2" lengthAdjust="spacingAndGlyphs" fill="#FFFF99" xml:space="preserve">Source Barron's   Graphic by Mark J. Lundeen</text>
<rect x="123" y="343.5" width="271" height="78" fill="#fff" stroke="#000" stroke-width="2"/>
<text x="131.5" y="364.6" font-family='"Liberation Sans", sans-serif' font-size="14.7" textLength="174.2" lengthAdjust="spacingAndGlyphs" fill="#000">Total Fed Credit ---------:</text>
<text x="318.79999999999995" y="364.6" font-family='"Liberation Sans", sans-serif' font-size="14.7" textLength="60.8" lengthAdjust="spacingAndGlyphs" fill="#000">Red Plot</text>
<text x="131.5" y="385.5" font-family='"Liberation Sans", sans-serif' font-size="14.7" textLength="173.1" lengthAdjust="spacingAndGlyphs" fill="#000">US Treasury Bonds -----:</text>
<text x="316.7" y="385.5" font-family='"Liberation Sans", sans-serif' font-size="14.7" textLength="64.6" lengthAdjust="spacingAndGlyphs" fill="#000">Blue Plot</text>
<text x="131.5" y="406.5" font-family='"Liberation Sans", sans-serif' font-size="14.7" textLength="172.2" lengthAdjust="spacingAndGlyphs" fill="#000">Currency In Circulation :</text>
<text x="306.59999999999997" y="406.5" font-family='"Liberation Sans", sans-serif' font-size="14.7" textLength="76.5" lengthAdjust="spacingAndGlyphs" fill="#000">Green Plot</text>
<rect x="543.6" y="226.1" width="116.4" height="71.7" fill="#fff" stroke="#000" stroke-width="2.2"/>
<text x="559.6999999999999" y="246.8" font-family='"Liberation Sans", sans-serif' font-size="14.7" textLength="83.7" lengthAdjust="spacingAndGlyphs" fill="#000">Market Bail</text>
<text x="553.6" y="268" font-family='"Liberation Sans", sans-serif' font-size="14.7" textLength="96.9" lengthAdjust="spacingAndGlyphs" fill="#000">Out Oct 2007</text>
<text x="556.6" y="288.3" font-family='"Liberation Sans", sans-serif' font-size="14.7" textLength="90.4" lengthAdjust="spacingAndGlyphs" fill="#000">to May 2010</text>
<line x1="661" y1="250.1" x2="687" y2="250.1" stroke="#000" stroke-width="2"/>
<polyline points="679.6,245.4 687.6,250.2 679.6,254.8" fill="none" stroke="#000" stroke-width="2.4" stroke-linecap="round" stroke-linejoin="miter"/>
</svg>
</body></html>
